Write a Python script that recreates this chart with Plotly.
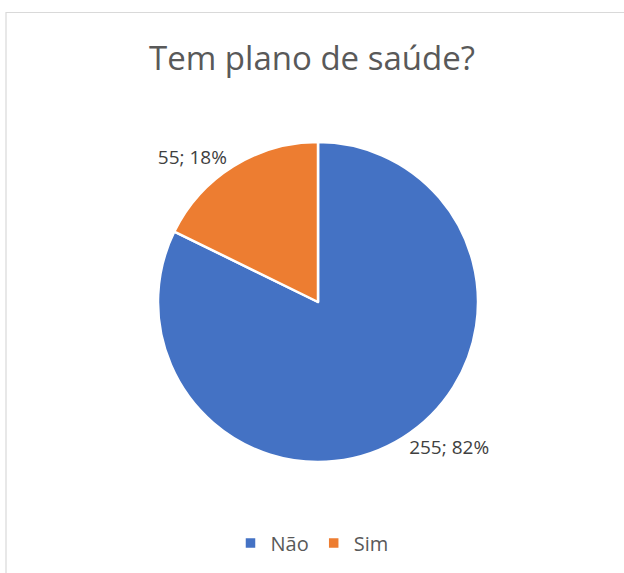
import plotly.graph_objects as go

labels = ["Não", "Sim"]
values = [255, 55]
colors = ["#4472C4", "#ED7D31"]

W, H = 624, 573
font = "Open Sans"

fig = go.Figure()
fig.add_trace(go.Pie(
    labels=labels,
    values=values,
    sort=False,
    direction="clockwise",
    rotation=0,
    marker=dict(colors=colors, line=dict(color="white", width=2.5)),
    texttemplate="%{value}; %{percent:.0%}",
    textposition="outside",
    textfont=dict(size=19, color="#404040", family=font),
    domain=dict(x=[158 / W, 478 / W], y=[111 / H, 431 / H]),
    hoverinfo="label+value+percent",
))

# chart-area border like the Excel frame
fig.add_shape(type="rect", xref="paper", yref="paper",
              x0=6 / W, x1=1.1, y0=-0.1, y1=1 - 12.5 / H,
              line=dict(color="#D9D9D9", width=1.2))

fig.update_layout(
    width=W, height=H,
    margin=dict(l=0, r=0, t=0, b=0),
    paper_bgcolor="white",
    plot_bgcolor="white",
    title=dict(text="Tem plano de saúde?", x=0.5, xanchor="center",
               y=1 - 58 / H, yanchor="middle",
               font=dict(size=33, color="#595959", family=font)),
    legend=dict(orientation="h", x=0.5, xanchor="center", y=30 / H, yanchor="middle",
                font=dict(size=20, color="#595959", family=font)),
)

fig.write_html("out.html", config={"displayModeBar": False},
               post_script="document.body.style.margin='0';")
